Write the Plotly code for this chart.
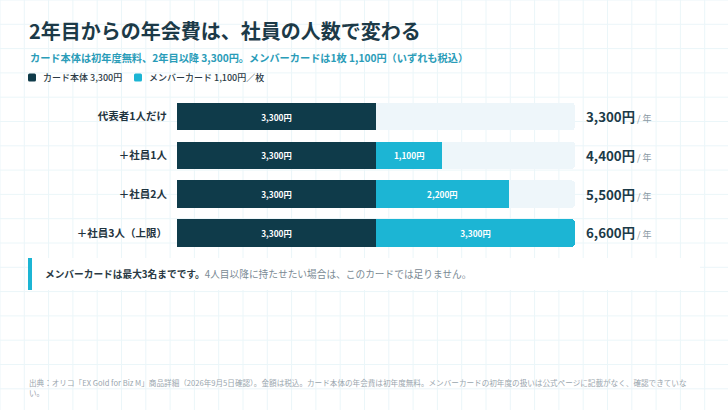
import plotly.graph_objects as go

W, H = 728, 410

# data
rows = ["代表者1人だけ", "＋社員1人", "＋社員2人", "＋社員3人（上限）"]
card_fee = [3300, 3300, 3300, 3300]
member_fee = [0, 1100, 2200, 3300]
max_total = 6600

title = "2年目からの年会費は、社員の人数で変わる"
subtitle = "カード本体は初年度無料、2年目以降 3,300円。メンバーカードは1枚 1,100円（いずれも税込）"
legend_names = ["カード本体 3,300円", "メンバーカード 1,100円／枚"]
note_bold = "メンバーカードは最大3名までです。"
note_rest = "4人目以降に持たせたい場合は、このカードでは足りません。"
source = ("出典：オリコ「EX Gold for Biz M」商品詳細（2026年9月5日確認）。金額は税込。"
          "カード本体の年会費は初年度無料。メンバーカードの初年度の扱いは公式ページに記載がなく、確認できていな<br>い。")

DARK = "#0f3b4a"
CYAN = "#1cb5d4"
TRACK = "#eef6fa"
INK = "#1c3a48"
FONT = "Noto Sans CJK JP"

totals = [c + m for c, m in zip(card_fee, member_fee)]
rest = [max_total - t for t in totals]


def px(x):
    return x / W


def py(y):
    return 1 - y / H


def yen(v):
    return f"{v:,}円"


fig = go.Figure()
fig.add_trace(go.Bar(
    y=rows, x=card_fee, orientation="h", marker_color=DARK,
    text=[yen(v) for v in card_fee], textposition="inside", insidetextanchor="middle",
    textfont=dict(color="white", size=8.3, weight="bold"), hoverinfo="skip",
))
fig.add_trace(go.Bar(
    y=rows, x=member_fee, orientation="h", marker_color=CYAN,
    text=[yen(v) if v else "" for v in member_fee], textposition="inside",
    insidetextanchor="middle",
    textfont=dict(color="white", size=8.3, weight="bold"), hoverinfo="skip",
))
fig.add_trace(go.Bar(
    y=rows, x=rest, orientation="h", marker_color=TRACK, hoverinfo="skip",
))
fig.update_traces(marker_line_width=0)

# background grid
shapes = []
step = 24.3
k = 0
while k * step <= W:
    shapes.append(dict(type="line", xref="paper", yref="paper", x0=px(k * step), x1=px(k * step),
                       y0=0, y1=1, line=dict(color="#ebf6f9", width=1), layer="below"))
    k += 1
k = 0
while k * step <= H:
    shapes.append(dict(type="line", xref="paper", yref="paper", x0=0, x1=1,
                       y0=py(k * step), y1=py(k * step), line=dict(color="#ebf6f9", width=1),
                       layer="below"))
    k += 1

# callout box
shapes.append(dict(type="rect", xref="paper", yref="paper", x0=px(28), x1=px(700),
                   y0=py(290), y1=py(258), fillcolor="white", line_width=0, layer="below"))
shapes.append(dict(type="rect", xref="paper", yref="paper", x0=px(28), x1=px(32),
                   y0=py(290), y1=py(258), fillcolor=CYAN, line_width=0))

# legend swatches (rounded)
for x0, col in [(28, DARK), (134, CYAN)]:
    x1, y0, y1, r = x0 + 8, 73.5, 81.5, 1.5
    path = (f"M {px(x0 + r)},{py(y0)} L {px(x1 - r)},{py(y0)} Q {px(x1)},{py(y0)} {px(x1)},{py(y0 + r)} "
            f"L {px(x1)},{py(y1 - r)} Q {px(x1)},{py(y1)} {px(x1 - r)},{py(y1)} "
            f"L {px(x0 + r)},{py(y1)} Q {px(x0)},{py(y1)} {px(x0)},{py(y1 - r)} "
            f"L {px(x0)},{py(y0 + r)} Q {px(x0)},{py(y0)} {px(x0 + r)},{py(y0)} Z")
    shapes.append(dict(type="path", xref="paper", yref="paper", path=path,
                       fillcolor=col, line_width=0))

ann = []
ann.append(dict(text=f"<b>{title}</b>", x=px(27), y=py(31), xanchor="left", yanchor="middle",
                font=dict(size=20, color=INK, family=FONT)))
ann.append(dict(text=subtitle, x=px(28), y=py(57), xanchor="left", yanchor="middle",
                font=dict(size=10.2, color="#2a9cb8", family=FONT, weight=600)))
for x0, name in [(41, legend_names[0]), (147, legend_names[1])]:
    ann.append(dict(text=name, x=px(x0), y=py(77.5), xanchor="left", yanchor="middle",
                    font=dict(size=9, color="#2a3a44", family=FONT, weight=500)))

for r, t in zip(rows, totals):
    ann.append(dict(text=f"<b>{yen(t)}</b><span style='font-size:9px;color:#8a99a3'> / 年</span>",
                    x=px(584), xref="paper", y=r, yref="y", xanchor="left", yanchor="middle",
                    font=dict(size=13.3, color=INK, family=FONT)))

ann.append(dict(text=f"<b>{note_bold}</b><span style='color:#7a8a94'>{note_rest}</span>",
                x=px(43), y=py(273.5), xanchor="left", yanchor="middle",
                font=dict(size=9.7, color="#2a3a44", family=FONT)))
ann.append(dict(text=source, x=px(27), y=py(387.5), xanchor="left", yanchor="middle", align="left",
                font=dict(size=7.6, color="#9aa6ae", family=FONT)))
for a in ann:
    a.setdefault("xref", "paper")
    a.setdefault("yref", "paper")
    a["showarrow"] = False

fig.update_layout(
    width=W, height=H,
    margin=dict(l=0, r=0, t=0, b=0),
    paper_bgcolor="white", plot_bgcolor="rgba(0,0,0,0)",
    barmode="stack", bargap=0.29, barcornerradius=4,
    showlegend=False,
    font=dict(family=FONT),
    shapes=shapes, annotations=ann,
    xaxis=dict(domain=[px(177), px(575)], range=[0, max_total], visible=False, fixedrange=True),
    yaxis=dict(domain=[py(252.4), py(97.1)], autorange="reversed", showgrid=False,
               zeroline=False, showline=False, ticks="", ticklabelstandoff=9, fixedrange=True,
               tickfont=dict(size=10.5, color="#1f3440", family=FONT, weight="bold")),
)

# drop the default page margin so the figure sits at the window's top-left
fig.write_html("out.html", config={"displayModeBar": False},
               post_script="document.body.style.margin='0';")
